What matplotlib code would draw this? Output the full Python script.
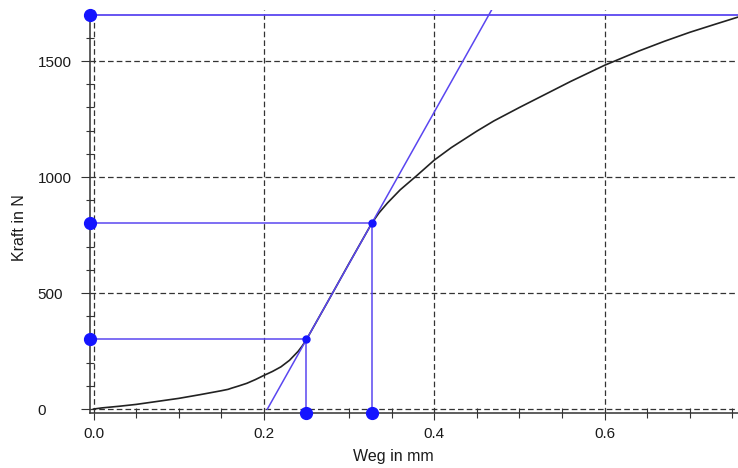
import matplotlib
matplotlib.use("Agg")
import matplotlib.pyplot as plt
from matplotlib.ticker import MultipleLocator

# ---- data ----
weg_mm = [0.0, 0.01, 0.03, 0.05, 0.075, 0.10, 0.125, 0.15, 0.158, 0.162, 0.17,
          0.18, 0.19, 0.20, 0.21, 0.22, 0.23, 0.24, 0.245, 0.25, 0.275, 0.30,
          0.31, 0.3265, 0.335, 0.345, 0.36, 0.38, 0.40, 0.42, 0.45, 0.47, 0.50,
          0.53, 0.56, 0.60, 0.64, 0.67, 0.70, 0.73, 0.757]
kraft_N = [0, 5, 12, 20, 33, 46, 62, 79, 85, 90, 99,
           111, 127, 145, 162, 182, 210, 248, 272, 300, 463, 628,
           693, 800, 845, 888, 945, 1008, 1073, 1127, 1198, 1242, 1300,
           1356, 1412, 1482, 1543, 1585, 1624, 1659, 1690]

punkt_weg = [0.25, 0.3265]     # mm
punkt_kraft = [300, 800]       # N
kraft_max = 1698               # N

x_ticks = [0.0, 0.2, 0.4, 0.6]
x_ticklabels = ["0.0", "0.2", "0.4", "0.6"]
y_ticks = [0, 500, 1000, 1500]
y_ticklabels = ["0", "500", "1000", "1500"]

xlim = (-0.0047, 0.7565)
ylim = (-17, 1720)

# ---- figure ----
W, H, DPI = 738, 468, 100
fig = plt.figure(figsize=(W / DPI, H / DPI), dpi=DPI)
left_px, right_px, top_px, bottom_px = 89.5, 738, 10, 413
ax = fig.add_axes([left_px / W, 1 - bottom_px / H,
                   (right_px - left_px) / W, (bottom_px - top_px) / H])
ax.set_xlim(*xlim)
ax.set_ylim(*ylim)

font = "Liberation Sans"
txtcol = "#1a1a1a"
blue_line = "#5a46f0"
blue_pt = "#1414ff"

# grid
ax.set_xticks(x_ticks)
ax.set_yticks(y_ticks)
ax.xaxis.set_minor_locator(MultipleLocator(0.05))
ax.yaxis.set_minor_locator(MultipleLocator(100))
ax.grid(True, which="major", color="#333333", lw=0.9, ls=(0, (4.5, 2.5)))
ax.set_axisbelow(True)

for s in ["top", "right"]:
    ax.spines[s].set_visible(False)
for s in ["left", "bottom"]:
    ax.spines[s].set_color("#333333")
    ax.spines[s].set_linewidth(1.1)

# curve
ax.plot(weg_mm, kraft_N, color="#222222", lw=1.2, zorder=3,
        solid_joinstyle="round")

# tangent through the two points
slope = (punkt_kraft[1] - punkt_kraft[0]) / (punkt_weg[1] - punkt_weg[0])
x0 = punkt_weg[0] - punkt_kraft[0] / slope
x_top = x0 + ylim[1] / slope
ax.plot([x0, x_top], [0, ylim[1]], color=blue_line, lw=1.1, zorder=4)

# helper lines
for xp, fp in zip(punkt_weg, punkt_kraft):
    ax.plot([xlim[0], xp], [fp, fp], color=blue_line, lw=1.1, zorder=4)
    ax.plot([xp, xp], [ylim[0], fp], color=blue_line, lw=1.1, zorder=4)
ax.plot([xlim[0], xlim[1]], [kraft_max, kraft_max], color=blue_line, lw=1.3, zorder=4)

# markers
ax.plot(punkt_weg, punkt_kraft, "o", color=blue_pt, ms=5, zorder=6)
ax.plot([xlim[0]] * 3, punkt_kraft + [kraft_max], "o", color=blue_pt, ms=8.5,
        zorder=6, clip_on=False)
ax.plot(punkt_weg, [ylim[0]] * 2, "o", color=blue_pt, ms=8.5, zorder=6, clip_on=False)

# ticks
ax.tick_params(axis="x", which="major", direction="out", length=5, width=0.8,
               color="#333333", pad=5, labelsize=11, labelcolor=txtcol)
ax.tick_params(axis="x", which="minor", direction="inout", length=7.2, width=0.8,
               color="#333333")
ax.tick_params(axis="y", which="major", direction="out", length=6.8, width=0.8,
               color="#333333", pad=30.6, labelsize=11, labelcolor=txtcol)
ax.tick_params(axis="y", which="minor", direction="inout", length=5.8, width=0.8,
               color="#333333")
ax.set_xticklabels(x_ticklabels, fontfamily=font)
ax.set_yticklabels(y_ticklabels, fontfamily=font)
plt.setp(ax.get_yticklabels(), ha="left")

fig.text(20 / W, 1 - 228 / H, "Kraft in N", rotation=90, ha="center", va="center",
         fontsize=11.5, fontfamily=font, color=txtcol)
fig.text(393 / W, 1 - 457 / H, "Weg in mm", ha="center", va="center",
         fontsize=11.5, fontfamily=font, color=txtcol)

fig.savefig("out.png", dpi=DPI)
